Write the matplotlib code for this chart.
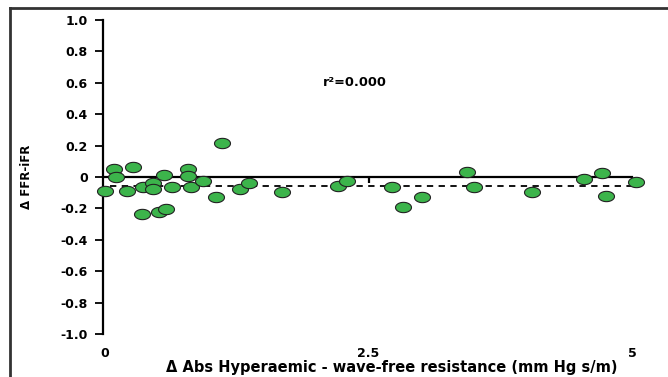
import numpy as np
import matplotlib
matplotlib.use("Agg")
import matplotlib.pyplot as plt
from matplotlib.path import Path
from matplotlib.lines import Line2D

plt.rcParams['font.family'] = ['DejaVu Sans']
plt.rcParams['font.weight'] = 'bold'

# data
resistance = [0.00, 0.085, 0.10, 0.21, 0.27, 0.35, 0.36, 0.46, 0.46, 0.515,
              0.575, 0.557, 0.64, 0.79, 0.79, 0.82, 0.93, 1.05, 1.11, 1.28,
              1.37, 1.68, 2.21, 2.30, 2.72, 2.83, 3.01, 3.43, 3.50, 4.05,
              4.54, 4.71, 4.75, 5.04]
delta_ffr_ifr = [-0.09, 0.05, 0.00, -0.087, 0.066, -0.236, -0.066, -0.036, -0.076, -0.22,
                 -0.204, 0.013, -0.066, 0.051, 0.006, -0.066, -0.025, -0.125, 0.215, -0.078,
                 -0.036, -0.096, -0.057, -0.028, -0.066, -0.193, -0.125, 0.032, -0.066, -0.098,
                 -0.015, 0.023, -0.119, -0.03]
mean_diff = -0.055
y_ticks = [1.0, 0.8, 0.6, 0.4, 0.2, 0.0, -0.2, -0.4, -0.6, -0.8, -1.0]
y_tick_labels = ['1.0', '0.8', '0.6', '0.4', '0.2', '0', '-0.2', '-0.4', '-0.6', '-0.8', '-1.0']
x_ticks = [0, 2.5, 5]
x_tick_labels = ['0', '2.5', '5']

# ellipse marker, wider than tall
t = np.linspace(0, 2 * np.pi, 60)
ellipse = Path(np.column_stack([1.55 * np.cos(t), np.sin(t)]), closed=True)

fig = plt.figure(figsize=(6.68, 3.77), dpi=100)
ax = fig.add_axes([103 / 668, 1 - 334 / 377, 547 / 668, 314 / 377])

ax.set_xlim(-0.019, 5.17)
ax.set_ylim(-1.0, 1.0)

ax.plot([0, 5], [0, 0], color='black', lw=1.6, zorder=1)
ax.plot([0.05, 5.0], [mean_diff, mean_diff], color='black', lw=1.3,
        ls=(0, (3.5, 3)), zorder=1)

ax.scatter(resistance, delta_ffr_ifr, marker=ellipse, s=11.5 ** 2,
           facecolor='#3cb44b', edgecolor='#222222', linewidth=0.8,
           zorder=3, clip_on=False)

ax.text(2.07, 0.605, 'r²=0.000', fontsize=9.3, fontweight='bold', va='center')

for s in ['top', 'right']:
    ax.spines[s].set_visible(False)
ax.spines['left'].set_linewidth(1.6)
ax.spines['left'].set_bounds(-1.0, 1.0)
ax.set_yticks(y_ticks)
ax.set_yticklabels(y_tick_labels)
ax.tick_params(axis='y', length=5.8, width=1.3, pad=5, labelsize=9)

# bottom spine sits on zero line, just carries the 2.5 tick
ax.spines['bottom'].set_position(('data', 0))
ax.spines['bottom'].set_visible(False)
ax.set_xticks([2.5])
ax.set_xticklabels([''])
ax.tick_params(axis='x', length=4, width=1.6, direction='out')

sec = ax.secondary_xaxis(-0.025)
sec.set_xticks(x_ticks)
sec.set_xticklabels(x_tick_labels)
sec.tick_params(length=0, labelsize=9)
sec.spines['bottom'].set_visible(False)

ax.set_xlabel('\u0394 Abs Hyperaemic - wave-free resistance (mm Hg s/m)',
              fontsize=10.5, fontweight='bold')
ax.xaxis.set_label_coords(0.527, -0.083)

ax.set_ylabel('\u0394 FFR-iFR', fontsize=8.5, fontweight='bold', labelpad=20)

# outer frame (top and left edges visible)
fig.add_artist(Line2D([10 / 668, 1.0], [1 - 7.5 / 377] * 2, color='#333333', lw=2,
                      transform=fig.transFigure))
fig.add_artist(Line2D([10 / 668] * 2, [0.0, 1 - 7.5 / 377], color='#333333', lw=2,
                      transform=fig.transFigure))

fig.savefig('out.png', dpi=100)
